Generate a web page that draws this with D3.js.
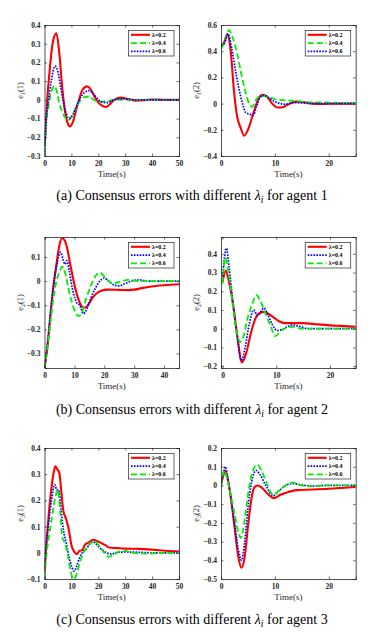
<!DOCTYPE html>
<html>
<head>
<meta charset="utf-8">
<script src="https://cdn.jsdelivr.net/npm/d3@7"></script>
<style>
  html, body { margin: 0; padding: 0; background: #fff; }
  svg { display: block; font-family: "Liberation Serif", "Times New Roman", serif; }
</style>
</head>
<body>
<div id="chart"></div>
<script>
// ---- data: [time, error] pairs ----
// (a) agent 1, first component: red λ=0.2, green λ=0.4, blue λ=0.6
const e11_red = [[0,-0.25],[1,0.0],[2,0.17],[3,0.3],[4.4,0.355],[5.5,0.25],[6.5,0.08],[7.5,-0.05],[8.5,-0.12],[9.5,-0.142],[10.5,-0.12],[12,-0.04],[13,0.01],[14,0.05],[15.8,0.072],[17,0.06],[18.5,0.02],[20,-0.015],[21.5,-0.032],[23,-0.038],[24.5,-0.02],[26,0.0],[28.5,0.012],[31,0.005],[34,-0.004],[37,-0.002],[40,0.002],[45,0],[50,0]];
const e11_green = [[0,-0.29],[0.8,-0.1],[1.5,-0.03],[2.5,0.04],[3.7,0.075],[4.5,0.05],[5.5,-0.02],[6.5,-0.06],[7.5,-0.09],[8.8,-0.11],[10,-0.09],[11.5,-0.05],[13,-0.01],[15,0.015],[16.5,0.018],[18.5,-0.002],[21,-0.01],[24,-0.005],[27,0.002],[30,0],[50,0]];
const e11_blue = [[0,-0.28],[0.8,-0.08],[1.5,0.0],[2.5,0.1],[3.9,0.18],[5,0.15],[6,0.07],[7,-0.01],[8,-0.07],[9.2,-0.1],[10.5,-0.08],[12,-0.03],[13.5,0.015],[15,0.04],[16.7,0.05],[18,0.035],[19.5,0.01],[21,-0.01],[23,-0.015],[25,-0.005],[27,0.005],[29,0.006],[32,0.002],[35,0],[50,0]];
// (a) agent 1, second component
const e12_red = [[0,0.44],[0.5,0.46],[1.2,0.53],[1.8,0.4],[2.4,0.1],[3,-0.1],[3.6,-0.18],[4.3,-0.245],[5,-0.2],[5.8,-0.1],[6.5,-0.01],[7,0.04],[7.7,0.068],[8.5,0.055],[9.5,0.0],[10.5,-0.03],[11.3,-0.03],[12.5,-0.005],[14,0.015],[15.5,0.01],[17,0.0],[19,-0.003],[21,0],[25,0]];
const e12_green = [[0,0.42],[0.6,0.46],[1.5,0.56],[2.2,0.5],[3,0.38],[3.8,0.22],[4.6,0.08],[5.2,0.0],[5.8,-0.025],[6.5,0.03],[7.5,0.06],[8.5,0.055],[10,0.035],[12,0.025],[14,0.02],[16,0.01],[18,0.01],[20,0.008],[25,0.003]];
const e12_blue = [[0,0.45],[0.6,0.46],[1.3,0.53],[2,0.42],[2.7,0.25],[3.3,0.12],[4,0.0],[4.6,-0.07],[5.3,-0.08],[6,-0.09],[6.6,-0.02],[7.2,0.04],[8,0.065],[9,0.04],[10,0.015],[11,0.0],[12,-0.005],[13.5,0.008],[15,0.005],[17,0],[25,0]];
// (b) agent 2, first component: red λ=0.2, blue λ=0.4, green λ=0.6
const e21_red = [[0,-0.36],[1,-0.27],[2,-0.14],[3,-0.02],[4,0.07],[5,0.15],[5.9,0.178],[6.7,0.17],[7.7,0.13],[8.6,0.07],[9.5,0.015],[10.5,-0.04],[11.5,-0.08],[12.5,-0.105],[13.5,-0.11],[14.5,-0.1],[16,-0.07],[17.5,-0.05],[19,-0.04],[21,-0.035],[25,-0.036],[28,-0.037],[30,-0.035],[33,-0.028],[36,-0.022],[40,-0.017],[45,-0.013]];
const e21_blue = [[0,-0.36],[1,-0.26],[2,-0.13],[3,-0.02],[4,0.06],[5.4,0.12],[6.3,0.085],[6.9,0.07],[7.5,0.085],[8.3,0.04],[9.5,-0.04],[10.8,-0.09],[11.8,-0.1],[13,-0.135],[14,-0.12],[15.5,-0.07],[17,-0.03],[18.5,0.0],[20,0.013],[21.5,0.0],[23,-0.015],[25,-0.02],[27,-0.01],[29,0.0],[32,0.005],[35,0.0],[45,0.0]];
const e21_green = [[0,-0.36],[1,-0.28],[2,-0.17],[3,-0.07],[4,0.0],[5,0.04],[6,0.06],[7,0.03],[8,-0.03],[9,-0.08],[10,-0.12],[11.5,-0.145],[12.5,-0.13],[14,-0.07],[15.5,-0.02],[17,0.02],[18.5,0.035],[20,0.02],[21.5,0.0],[23,-0.01],[25,-0.003],[28,0.005],[32,0.0],[45,0.0]];
// (b) agent 2, second component
const e22_red = [[0,0.25],[0.6,0.31],[1.2,0.25],[2,0.12],[2.7,-0.03],[3.6,-0.18],[4.4,-0.13],[5.3,-0.02],[6.2,0.06],[7,0.085],[7.7,0.09],[8.5,0.08],[9.5,0.06],[10.5,0.04],[11.5,0.03],[13,0.03],[15,0.03],[17,0.025],[20,0.018],[22,0.015],[25,0.01]];
const e22_blue = [[0,0.28],[0.7,0.43],[1.2,0.33],[2,0.12],[2.8,-0.06],[3.5,-0.17],[4.2,-0.1],[5,0.03],[5.8,0.1],[6.5,0.07],[7.7,0.11],[8.5,0.07],[9.3,0.02],[10.2,-0.01],[11,-0.005],[12,0.01],[13,0.02],[14,0.015],[16,0.0],[20,0.0],[25,0.0]];
const e22_green = [[0,0.24],[0.5,0.38],[1.1,0.3],[1.8,0.15],[2.5,0.0],[3.3,-0.07],[3.9,-0.04],[4.7,0.06],[5.5,0.13],[6.3,0.18],[7,0.15],[8,0.08],[9,0.01],[9.8,-0.04],[10.6,-0.02],[11.5,0.0],[13,0.01],[15,0.0],[20,0.0],[25,0.0]];
// (c) agent 3, first component
const e31_red = [[0,-0.07],[0.8,0.05],[1.6,0.15],[2.5,0.24],[3.3,0.3],[4,0.33],[4.7,0.32],[5.5,0.305],[6.2,0.24],[7,0.16],[8,0.13],[9,0.09],[10,0.03],[11,0.005],[12,-0.005],[13,0.008],[14,0.01],[15,0.03],[16.5,0.04],[18,0.05],[19.5,0.045],[21,0.038],[22.5,0.03],[24,0.02],[27,0.018],[30,0.016],[35,0.015],[40,0.012],[45,0.008],[50,0.005]];
const e31_blue = [[0,-0.07],[0.8,0.04],[1.6,0.12],[2.6,0.2],[3.8,0.26],[4.6,0.24],[5.3,0.24],[6.2,0.16],[7,0.09],[8,0.04],[9,-0.01],[10,-0.05],[11,-0.07],[12,-0.05],[13,-0.02],[14,0.0],[15.5,0.015],[17,0.035],[18,0.042],[19.5,0.03],[21,0.015],[23,0.0],[25,-0.005],[27,0.002],[30,0.003],[35,0.002],[40,0.0],[50,0.0]];
const e31_green = [[0,-0.09],[0.8,0.0],[1.8,0.07],[2.8,0.14],[3.8,0.2],[4.9,0.24],[5.8,0.16],[6.6,0.06],[7.5,0.04],[8.5,0.0],[9.5,-0.06],[10.8,-0.1],[12,-0.08],[13,-0.04],[14.5,0.0],[16,0.025],[17.5,0.04],[18.5,0.045],[20,0.03],[21.5,0.01],[23,-0.01],[24,-0.015],[26,-0.005],[28,0.005],[30,0.007],[33,0.0],[38,-0.003],[45,0.0],[50,0.0]];
// (c) agent 3, second component
const e32_red = [[0,0.0],[0.4,0.05],[0.8,0.08],[1.2,0.04],[1.8,-0.06],[2.5,-0.22],[3.2,-0.38],[3.8,-0.44],[4.4,-0.38],[5,-0.22],[5.6,-0.08],[6.2,-0.01],[6.8,0.0],[7.5,-0.01],[8.5,-0.04],[9.8,-0.068],[11,-0.05],[12.5,-0.035],[14,-0.025],[17,-0.022],[20,-0.018],[23,-0.012],[25,-0.008]];
const e32_blue = [[0,0.0],[0.4,0.06],[0.8,0.1],[1.2,0.05],[1.8,-0.06],[2.5,-0.2],[3.2,-0.34],[3.8,-0.4],[4.4,-0.3],[5,-0.12],[5.7,0.02],[6.5,0.08],[7.2,0.06],[8.3,0.0],[9.7,-0.055],[10.7,-0.03],[12,0.0],[13.3,0.01],[15,0.002],[17,-0.003],[20,0.0],[25,0.0]];
const e32_green = [[0,0.0],[0.3,0.05],[0.6,0.08],[1.1,0.04],[1.8,-0.05],[2.5,-0.15],[3.2,-0.25],[3.7,-0.28],[4.3,-0.2],[5,-0.05],[5.8,0.07],[6.7,0.11],[7.5,0.08],[8.5,0.01],[9.7,-0.05],[10.7,-0.03],[12,0.0],[13.3,0.015],[15,0.0],[17,-0.005],[19,0.0],[25,0.0]];

// axis ticks
const xTicks50 = [0, 10, 20, 30, 40, 50];
const xTicks45 = [0, 10, 20, 30, 40];
const xTicks25 = [0, 10, 20];
const yTicksA1 = [-0.3, -0.2, -0.1, 0, 0.1, 0.2, 0.3, 0.4];
const yTicksA2 = [-0.4, -0.2, 0, 0.2, 0.4, 0.6];
const yTicksB1 = [-0.3, -0.2, -0.1, 0, 0.1];
const yTicksB2 = [-0.2, -0.1, 0, 0.1, 0.2, 0.3, 0.4];
const yTicksC1 = [-0.1, 0, 0.1, 0.2, 0.3, 0.4];
const yTicksC2 = [-0.5, -0.4, -0.3, -0.2, -0.1, 0, 0.1, 0.2];
const legendA = ["λ=0.2", "λ=0.4", "λ=0.6"];

const captions = [
  {tag: "(a)", agent: "1"},
  {tag: "(b)", agent: "2"},
  {tag: "(c)", agent: "3"}
];

// series styles
const styles = {
  red:   {color: "#ff0000", width: 2.1, dash: null},
  green: {color: "#00ee00", width: 1.8, dash: "6,3"},
  blue:  {color: "#0000ff", width: 1.7, dash: "1.6,1.3"}
};

const serif = '"Liberation Serif", "Times New Roman", serif';
const width = 368, height = 633;
const svg = d3.select("#chart").append("svg")
    .attr("width", width)
    .attr("height", height)
    .style("font-family", serif);

const colX = [[44.5, 179], [221, 355.7]];
const rowY = [[25, 156], [237, 368], [448, 579]];

const panels = [
  {row: 0, col: 0, xd: [0, 50], yd: [-0.3, 0.4], xt: xTicks50, yt: yTicksA1, sub: "1", arg: "1",
   series: [["red", e11_red], ["green", e11_green], ["blue", e11_blue]]},
  {row: 0, col: 1, xd: [0, 25], yd: [-0.4, 0.6], xt: xTicks25, yt: yTicksA2, sub: "1", arg: "2",
   series: [["red", e12_red], ["green", e12_green], ["blue", e12_blue]]},
  {row: 1, col: 0, xd: [0, 45], yd: [-0.36, 0.183], xt: xTicks45, yt: yTicksB1, sub: "2", arg: "1",
   series: [["red", e21_red], ["blue", e21_blue], ["green", e21_green]]},
  {row: 1, col: 1, xd: [-0.3, 24.8], yd: [-0.21, 0.49], xt: xTicks25, yt: yTicksB2, sub: "2", arg: "2",
   series: [["red", e22_red], ["blue", e22_blue], ["green", e22_green]]},
  {row: 2, col: 0, xd: [0, 50], yd: [-0.1, 0.4], xt: xTicks50, yt: yTicksC1, sub: "3", arg: "1",
   series: [["red", e31_red], ["blue", e31_blue], ["green", e31_green]]},
  {row: 2, col: 1, xd: [0, 25], yd: [-0.5, 0.2], xt: xTicks25, yt: yTicksC2, sub: "3", arg: "2",
   series: [["red", e32_red], ["blue", e32_blue], ["green", e32_green]]}
];

const fmt = v => (Math.abs(v) < 1e-9 ? "0" : d3.format(".1f")(v));
const axisColor = "#262626";

panels.forEach((p, i) => {
  const [x0, x1] = colX[p.col];
  const [y0, y1] = rowY[p.row];
  const x = d3.scaleLinear().domain(p.xd).range([x0, x1]);
  const y = d3.scaleLinear().domain(p.yd).range([y1, y0]);

  const g = svg.append("g").attr("class", "panel");

  // clip for the curves
  svg.append("clipPath").attr("id", "clip" + i)
    .append("rect").attr("x", x0).attr("y", y0).attr("width", x1 - x0).attr("height", y1 - y0);

  const line = d3.line()
      .x(d => x(d[0]))
      .y(d => y(d[1]))
      .curve(d3.curveMonotoneX);

  p.series.forEach(([key, data]) => {
    const s = styles[key];
    g.append("path")
      .datum(data)
      .attr("clip-path", `url(#clip${i})`)
      .attr("fill", "none")
      .attr("stroke", s.color)
      .attr("stroke-width", s.width)
      .attr("stroke-dasharray", s.dash)
      .attr("d", line);
  });

  // axes (MATLAB style, inward ticks on all four sides)
  const tk = 2.5;
  const bottom = g.append("g").attr("transform", `translate(0,${y1})`)
    .call(d3.axisBottom(x).tickValues(p.xt).tickSize(-tk).tickPadding(5).tickFormat(d3.format("d")));
  const top = g.append("g").attr("transform", `translate(0,${y0})`)
    .call(d3.axisTop(x).tickValues(p.xt).tickSize(-tk).tickFormat(""));
  const left = g.append("g").attr("transform", `translate(${x0},0)`)
    .call(d3.axisLeft(y).tickValues(p.yt).tickSize(-tk).tickPadding(4).tickFormat(fmt));
  const right = g.append("g").attr("transform", `translate(${x1},0)`)
    .call(d3.axisRight(y).tickValues(p.yt).tickSize(-tk).tickFormat(""));

  [bottom, top, left, right].forEach(a => {
    a.select(".domain").attr("stroke", axisColor).attr("stroke-width", 0.8);
    a.selectAll(".tick line").attr("stroke", axisColor).attr("stroke-width", 0.7);
    a.selectAll("text")
      .attr("fill", axisColor)
      .style("font-family", serif)
      .style("font-size", "7.5px")
      .style("font-weight", "bold");
  });

  // x label
  g.append("text")
    .attr("x", (x0 + x1) / 2)
    .attr("y", y1 + 21)
    .attr("text-anchor", "middle")
    .attr("fill", axisColor)
    .style("font-size", "9px")
    .text("Time(s)");

  // y label e_k(j)
  const lx = p.col === 0 ? 22.5 : 199;
  const ly = (y0 + y1) / 2;
  const yl = g.append("text")
    .attr("transform", `translate(${lx},${ly}) rotate(-90)`)
    .attr("text-anchor", "middle")
    .attr("fill", axisColor)
    .style("font-size", "8.5px");
  yl.append("tspan").text("e");
  yl.append("tspan").attr("dy", 2).style("font-size", "6px").text(p.sub);
  yl.append("tspan").attr("dy", -2).text("(" + p.arg + ")");

  // legend
  const lw = 45.5, lh = 25.5;
  const lxx = x1 - 5 - lw, lyy = y0 + 5.5;
  const lg = g.append("g").attr("transform", `translate(${lxx},${lyy})`);
  lg.append("rect")
    .attr("width", lw).attr("height", lh)
    .attr("fill", "#fff")
    .attr("stroke", axisColor)
    .attr("stroke-width", 0.7);
  p.series.forEach(([key], j) => {
    const s = styles[key];
    const yy = 4.3 + j * 8.3;
    lg.append("line")
      .attr("x1", 2.5).attr("x2", 21.5)
      .attr("y1", yy).attr("y2", yy)
      .attr("stroke", s.color)
      .attr("stroke-width", s.width)
      .attr("stroke-dasharray", s.dash);
    lg.append("text")
      .attr("x", 23.5).attr("y", yy + 2)
      .attr("fill", "#000")
      .style("font-size", "6px")
      .style("font-weight", "bold")
      .text(legendA[j]);
  });
});

// captions
const capY = [200, 414, 624];
captions.forEach((c, i) => {
  const t = svg.append("text")
    .attr("x", 192)
    .attr("y", capY[i])
    .attr("text-anchor", "middle")
    .attr("fill", "#000")
    .style("font-family", serif)
    .style("font-size", "14px");
  t.append("tspan").text(`${c.tag} Consensus errors with different `);
  t.append("tspan").style("font-style", "italic").text("λ");
  t.append("tspan").attr("dy", 2.5).style("font-style", "italic").style("font-size", "9.5px").text("i");
  t.append("tspan").attr("dy", -2.5).text(` for agent ${c.agent}`);
});
</script>
</body>
</html>
